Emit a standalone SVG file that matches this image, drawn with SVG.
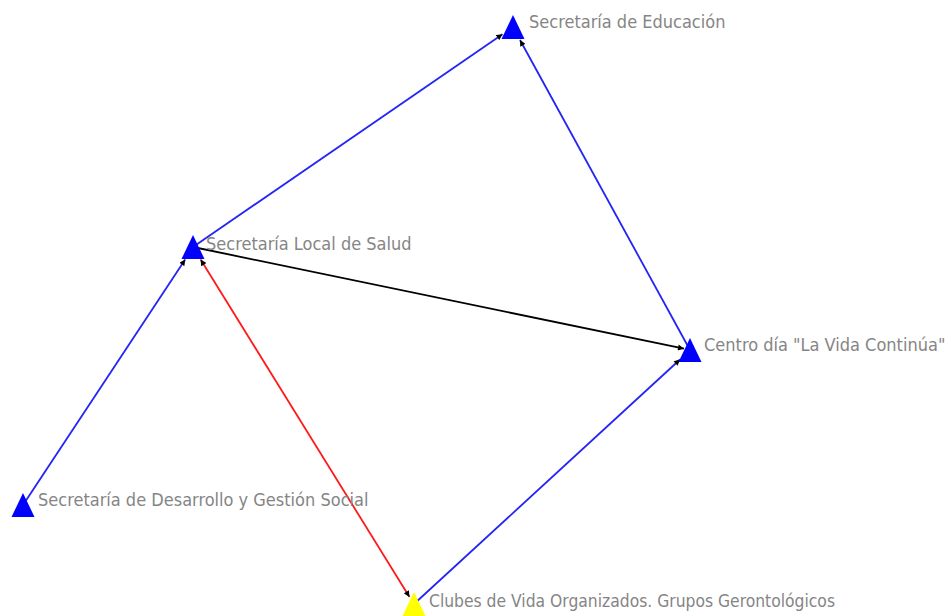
<svg xmlns="http://www.w3.org/2000/svg" width="949" height="616" viewBox="0 0 949 616">
  <style>
    .lbl { font-family: "DejaVu Sans Condensed", "DejaVu Sans", sans-serif; font-stretch: condensed; font-size: 18px; fill: #858585; }
    .edge { fill: none; stroke-width: 1.8; }
    .blue { stroke: #2424f5; }
    .red { stroke: #ff1a1a; }
    .black { stroke: #000000; }
    .tri-b { fill: #0000ff; }
    .tri-y { fill: #ffff00; }
  </style>
  <defs>
    <marker id="arr" viewBox="0 0 10 10" refX="10" refY="5" markerWidth="7" markerHeight="6" markerUnits="userSpaceOnUse" orient="auto">
      <path d="M0,0 L10,5 L0,10 z" fill="#000"/>
    </marker>
    <marker id="arrS" viewBox="0 0 10 10" refX="0" refY="5" markerWidth="7" markerHeight="6" markerUnits="userSpaceOnUse" orient="auto">
      <path d="M10,0 L0,5 L10,10 z" fill="#000"/>
    </marker>
  </defs>
  <rect width="949" height="616" fill="#ffffff"/>
  <g id="connectors">
    <line class="edge blue" x1="193" y1="247" x2="502.5" y2="34.2" marker-end="url(#arr)"/>
    <line class="edge blue" x1="520" y1="40" x2="690" y2="350" marker-start="url(#arrS)"/>
    <line class="edge black" x1="193" y1="247" x2="684" y2="348.7" marker-end="url(#arr)"/>
    <line class="edge blue" x1="185.2" y1="259.5" x2="23" y2="505" marker-start="url(#arrS)"/>
    <line class="edge red" x1="200.6" y1="259.5" x2="409.5" y2="597" marker-start="url(#arrS)" marker-end="url(#arr)"/>
    <line class="edge blue" x1="414" y1="604" x2="680" y2="359.5" marker-end="url(#arr)"/>
  </g>
  <g id="node-educacion">
    <polygon class="tri-b" points="513,15 501.5,39 524.5,39"/>
    <text class="lbl" x="529" y="28">Secretaría de Educación</text>
  </g>
  <g id="node-salud">
    <polygon class="tri-b" points="193,235 181.5,259 204.5,259"/>
    <text class="lbl" x="206" y="250">Secretaría Local de Salud</text>
  </g>
  <g id="node-centro">
    <polygon class="tri-b" points="690,338 678.5,362 701.5,362"/>
    <text class="lbl" x="704" y="351">Centro día "La Vida Continúa"</text>
  </g>
  <g id="node-desarrollo">
    <polygon class="tri-b" points="23,493 11.5,517 34.5,517"/>
    <text class="lbl" x="38" y="506">Secretaría de Desarrollo y Gestión Social</text>
  </g>
  <g id="node-clubes">
    <polygon class="tri-y" points="414,592 402.5,616 425.5,616"/>
    <text class="lbl" x="429" y="607" textLength="406" lengthAdjust="spacingAndGlyphs">Clubes de Vida Organizados. Grupos Gerontológicos</text>
  </g>
</svg>
